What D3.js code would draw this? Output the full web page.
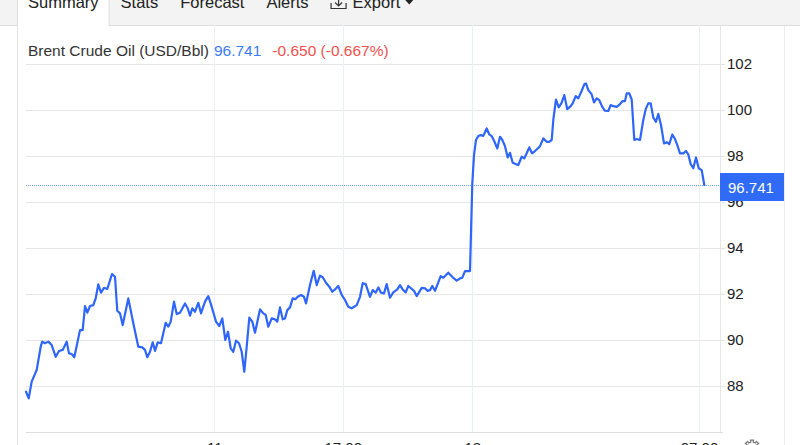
<!DOCTYPE html>
<html>
<head>
<meta charset="utf-8">
<script src="https://cdn.jsdelivr.net/npm/d3@7"></script>
<style>
  html, body { margin: 0; padding: 0; background: #fff; overflow: hidden; }
  svg { display: block; font-family: "Liberation Sans", Arial, Helvetica, sans-serif; }
</style>
</head>
<body>
<svg id="chart" width="800" height="445"></svg>
<script>
;(function (window, document, undefined) {

  'use strict';

  // trading-time position of each quote (chart units) and the price
  var times = [
    0, 2.7, 5.7, 10.7, 14.7, 16.3, 19, 22.3, 25.7, 29.7, 33, 36.7, 40.7, 43, 45.7, 48.3,
    54, 56.7, 59, 61.3, 64, 67.3, 69.7, 72.3, 75, 78, 81.3, 86, 89, 91.3, 94, 96.7,
    102.3, 107.3, 112.3, 116.3, 119, 121.3, 124, 126.7, 129, 131.7, 135, 139.7, 142.3, 144.7,
    148, 150.7, 154, 159, 161.7, 164, 166.3, 169, 172.3, 175, 179, 182.3, 185.7, 190, 193.3,
    196.3, 199.3, 202, 204.7, 207.3, 210, 213, 215.7, 218.3, 220.7, 223.3, 226.3, 229, 234,
    237.3, 239.7, 242.3, 245.7, 249, 251.3, 254, 256.7, 259, 261.3, 264, 266.7, 269.3, 271.7,
    275, 278, 280, 284, 287.7, 290.7, 294, 296.7, 300, 303.3, 306.3, 309, 312.3, 315.7, 319,
    322.3, 325.7, 330.7, 334, 336.7, 339.7, 344, 346.7, 349.7, 352.3, 355, 358, 360.7, 364,
    367.3, 371.3, 374, 376.7, 379.7, 382.3, 385, 388, 390.7, 395.7, 399, 401.3, 404, 406.3,
    409, 414.7, 417.3, 422.3, 426.7, 430.7, 434, 436.3, 439, 444, 446.3, 448, 450, 452.3,
    454.7, 457.3, 460.7, 463.3, 465.7, 468, 471.3, 474, 476.3, 479, 481.7, 484, 486.7, 489.7,
    492.3, 495.7, 498.3, 500.7, 503.3, 506, 509, 511.7, 514, 517.3, 520.7, 523, 525.7, 527.3,
    530, 532.7, 535.7, 538.3, 541.3, 544.7, 546.7, 549.7, 552.3, 555.7, 558.3, 560, 562.3,
    565.7, 568, 570.7, 573.3, 576.3, 579, 582.3, 584.7, 587.3, 590.7, 594, 596.7, 599, 600.7,
    603.3, 605.7, 608.3, 610.7, 614, 617.3, 619.7, 622.3, 624.7, 627.3, 630, 632.3, 635, 638,
    640.7, 643.3, 646.3, 649, 651.3, 654, 657.3, 660, 662.3, 664.7, 667.3, 670, 672.7, 675.7,
    678.3
  ];

  var prices = [
    87.75, 87.46, 88.19, 88.70, 89.71, 89.93, 89.86, 89.93, 89.78, 89.27, 89.52, 89.57, 89.93, 89.42, 89.39, 89.25,
    90.43, 90.43, 91.48, 91.19, 91.48, 91.52, 91.81, 92.42, 92.06, 92.27, 92.22, 92.87, 92.75, 91.27, 91.16, 90.65,
    91.81, 90.73, 89.71, 89.68, 89.57, 89.25, 89.49, 89.90, 89.53, 89.90, 89.86, 90.75, 90.58, 90.80,
    91.67, 91.13, 91.19, 91.59, 91.38, 91.06, 91.38, 91.23, 91.62, 91.16, 91.67, 91.91, 91.45, 90.80, 90.61,
    90.94, 90.00, 90.36, 89.64, 89.49, 89.97, 89.86, 89.49, 88.62, 89.71, 90.97, 90.80, 90.32, 91.33,
    91.16, 91.09, 90.58, 90.94, 90.90, 90.80, 91.42, 90.90, 90.94, 91.30, 91.42, 91.81, 91.77, 91.88,
    91.96, 91.88, 91.59, 92.39, 93.01, 92.39, 92.80, 92.73, 92.49, 92.32, 92.10, 92.20, 92.35, 91.96, 91.74,
    91.45, 91.38, 91.52, 91.88, 92.47, 92.43, 91.88, 92.17, 92.06, 92.29, 92.06, 92.03, 92.43, 91.84,
    92.07, 92.20, 92.39, 92.20, 92.07, 92.35, 92.25, 92.14, 91.91, 92.27, 92.25, 92.14, 92.17, 92.35,
    92.14, 92.78, 92.71, 92.93, 92.73, 92.58, 92.68, 92.71, 93.00, 93.00, 96.81, 98.04, 98.70, 98.87,
    98.91, 98.88, 99.20, 98.94, 98.87, 98.67, 98.33, 98.84, 98.70, 98.43, 97.94, 98.14, 97.71, 97.65,
    97.61, 97.97, 97.90, 98.12, 98.38, 98.12, 98.22, 98.33, 98.43, 98.77, 98.62, 98.62, 98.70, 99.57,
    100.46, 100.12, 100.32, 100.65, 100.04, 100.17, 100.29, 100.61, 100.51, 100.84, 101.12, 101.16, 100.87,
    100.68, 100.33, 100.51, 100.43, 100.14, 99.97, 99.96, 100.22, 100.17, 100.14, 100.26, 100.39, 100.39, 100.73,
    100.73, 100.46, 98.70, 98.74, 98.70, 99.57, 100.04, 100.29, 100.29, 99.67, 99.49, 99.83, 99.35, 98.55,
    98.60, 98.52, 98.94, 98.74, 98.48, 98.12, 98.12, 98.22, 98.07, 97.65, 97.47, 97.94, 97.47, 97.39,
    96.741
  ];

  var yTicks = [88, 90, 92, 94, 96, 98, 100, 102];
  var xTickTimes = [188.3, 316.7, 446.3, 673];
  var xTickLabels = ['11', '17:00', '18', '07:00'];
  var tabLabels = ['Summary', 'Stats', 'Forecast', 'Alerts', 'Export'];
  var seriesName = 'Brent Crude Oil (USD/Bbl)';
  var lastPrice = 96.741;
  var priceChange = -0.650;
  var priceChangePct = -0.667;

  var W = 800, H = 445;
  var plot = { left: 26, right: 720, top: 25, bottom: 432 };

  var fmt3 = function (v) { return d3.format('.3f')(v).replace('\u2212', '-'); };

  var svg = d3.select('#chart');

  var x = d3.scaleLinear().domain([0, 694]).range([plot.left, plot.right]);
  var y = d3.scaleLinear().domain([86, 103.7]).range([plot.bottom, plot.top]);

  // ---- tab bar
  svg.append('rect')
    .attr('x', 0).attr('y', 0).attr('width', W).attr('height', 25)
    .attr('fill', '#f3f3f3');
  svg.append('line')
    .attr('x1', 0).attr('x2', W).attr('y1', 25.5).attr('y2', 25.5)
    .attr('stroke', '#dcdcdc');

  var tabs = svg.append('g').attr('class', 'tabs');
  var tx = 28;
  tabLabels.forEach(function (label, i) {
    var isExport = label === 'Export';
    var t = tabs.append('text')
      .attr('x', isExport ? tx + 22 : tx)
      .attr('y', 8)
      .attr('font-size', '16.5px')
      .attr('fill', '#222')
      .text(label);
    var w = t.node().getComputedTextLength();
    if (i === 0) {
      tabs.insert('rect', 'text')
        .attr('x', 17.5).attr('y', -1).attr('width', w + 21).attr('height', 27)
        .attr('fill', '#fff').attr('stroke', '#dcdcdc');
      tabs.insert('rect', 'text')
        .attr('x', 18).attr('y', 25).attr('width', w + 20).attr('height', 2)
        .attr('fill', '#fff');
    }
    if (isExport) {
      // download icon
      tabs.append('path')
        .attr('d', 'M' + (tx + 0.5) + ',3 V8.5 H' + (tx + 15.5) + ' V3')
        .attr('fill', 'none').attr('stroke', '#333').attr('stroke-width', 1.2);
      tabs.append('path')
        .attr('d', 'M' + (tx + 8) + ',-3 V6 M' + (tx + 4.5) + ',2.5 L' + (tx + 8) + ',6 L' + (tx + 11.5) + ',2.5')
        .attr('fill', 'none').attr('stroke', '#333').attr('stroke-width', 1.2);
      var cx = tx + 22 + w + 9;
      tabs.append('path')
        .attr('d', 'M' + (cx - 4) + ',0 L' + (cx + 4) + ',0 L' + cx + ',4.5 Z')
        .attr('fill', '#222');
    }
    tx += w + 22;
  });

  // ---- frame lines
  svg.append('line')
    .attr('x1', 17.5).attr('x2', 17.5).attr('y1', 25).attr('y2', H)
    .attr('stroke', '#e2e2e2');
  svg.append('line')
    .attr('x1', 784.5).attr('x2', 784.5).attr('y1', 26).attr('y2', H)
    .attr('stroke', '#ececec');

  // ---- grid
  var grid = svg.append('g').attr('class', 'grid');
  grid.selectAll('line.h')
    .data(yTicks)
    .enter().append('line')
    .attr('class', 'h')
    .attr('x1', plot.left).attr('x2', plot.right + 5)
    .attr('y1', function (d) { return Math.round(y(d)) + 0.5; })
    .attr('y2', function (d) { return Math.round(y(d)) + 0.5; })
    .attr('stroke', '#e6e6e6');
  grid.selectAll('line.v')
    .data(xTickTimes)
    .enter().append('line')
    .attr('class', 'v')
    .attr('x1', function (d) { return Math.round(x(d)) + 0.5; })
    .attr('x2', function (d) { return Math.round(x(d)) + 0.5; })
    .attr('y1', plot.top).attr('y2', plot.bottom)
    .attr('stroke', '#ebf0f5');
  svg.append('line')
    .attr('x1', plot.right + 0.5).attr('x2', plot.right + 0.5)
    .attr('y1', plot.top).attr('y2', plot.bottom)
    .attr('stroke', '#e6e6e6');

  // ---- axes
  var xAxis = d3.axisBottom(x)
    .tickValues(xTickTimes)
    .tickSize(0)
    .tickPadding(0)
    .tickFormat(function (d, i) { return xTickLabels[i]; });
  var gx = svg.append('g')
    .attr('transform', 'translate(0,' + (plot.bottom + 0.5) + ')')
    .call(xAxis);
  gx.select('.domain').attr('stroke', '#dedede').attr('d', 'M' + plot.left + ',0H' + (plot.right + 3));
  gx.selectAll('text')
    .attr('y', 20)
    .attr('dy', null)
    .attr('font-size', '15px')
    .attr('font-family', null)
    .attr('fill', '#222');

  var yAxis = d3.axisRight(y)
    .tickValues(yTicks)
    .tickSize(0)
    .tickPadding(7)
    .tickFormat(d3.format('d'));
  var gy = svg.append('g')
    .attr('transform', 'translate(' + plot.right + ',0)')
    .call(yAxis);
  gy.select('.domain').remove();
  gy.selectAll('text')
    .attr('font-size', '15px')
    .attr('font-family', null)
    .attr('fill', '#222');

  // ---- title
  var title = svg.append('g').attr('transform', 'translate(28,56)');
  var t1 = title.append('text')
    .attr('font-size', '15.5px').attr('fill', '#333')
    .text(seriesName);
  var w1 = t1.node().getComputedTextLength();
  var t2 = title.append('text')
    .attr('x', w1 + 5)
    .attr('font-size', '15.5px').attr('fill', '#3a7bf7')
    .text(fmt3(lastPrice));
  var w2 = t2.node().getComputedTextLength();
  title.append('text')
    .attr('x', w1 + 5 + w2 + 11)
    .attr('font-size', '15.5px').attr('fill', '#f2514d')
    .text(fmt3(priceChange) + ' (' + fmt3(priceChangePct) + '%)');

  // ---- last price line
  svg.append('line')
    .attr('x1', plot.left).attr('x2', plot.right)
    .attr('y1', Math.round(y(lastPrice)) + 0.5).attr('y2', Math.round(y(lastPrice)) + 0.5)
    .attr('stroke', '#3f7af8')
    .attr('stroke-opacity', 0.75)
    .attr('stroke-dasharray', '1,1');

  // ---- series
  var data = times.map(function (t, i) { return { t: t, v: prices[i] }; });
  var line = d3.line()
    .x(function (d) { return x(d.t); })
    .y(function (d) { return y(d.v); });
  svg.append('path')
    .datum(data)
    .attr('d', line)
    .attr('fill', 'none')
    .attr('stroke', '#2e65fb')
    .attr('stroke-width', 2.2)
    .attr('stroke-linejoin', 'round')
    .attr('stroke-linecap', 'round');

  // ---- last price tag
  var tagY = y(lastPrice);
  svg.append('rect')
    .attr('x', plot.right).attr('y', tagY - 12)
    .attr('width', 64).attr('height', 28)
    .attr('fill', '#2f6bf6');
  svg.append('text')
    .attr('x', plot.right + 8).attr('y', tagY + 7.5)
    .attr('font-size', '15px').attr('fill', '#fff')
    .text(fmt3(lastPrice));

  // ---- settings gear (cut off at the bottom)
  var gear = svg.append('g').attr('transform', 'translate(752,448)');
  var pts = [];
  for (var k = 0; k < 16; k++) {
    var a = k * Math.PI / 8 - Math.PI / 16;
    var r = (k % 2 === 0) ? 8 : 6;
    pts.push([r * Math.cos(a), r * Math.sin(a)]);
    pts.push([r * Math.cos(a + Math.PI / 8), r * Math.sin(a + Math.PI / 8)]);
  }
  gear.append('path')
    .attr('d', d3.line()(pts) + 'Z')
    .attr('fill', 'none').attr('stroke', '#777').attr('stroke-width', 1.2);
  gear.append('circle').attr('r', 2.5)
    .attr('fill', 'none').attr('stroke', '#777').attr('stroke-width', 1.2);

})(window, document);
</script>
</body>
</html>
